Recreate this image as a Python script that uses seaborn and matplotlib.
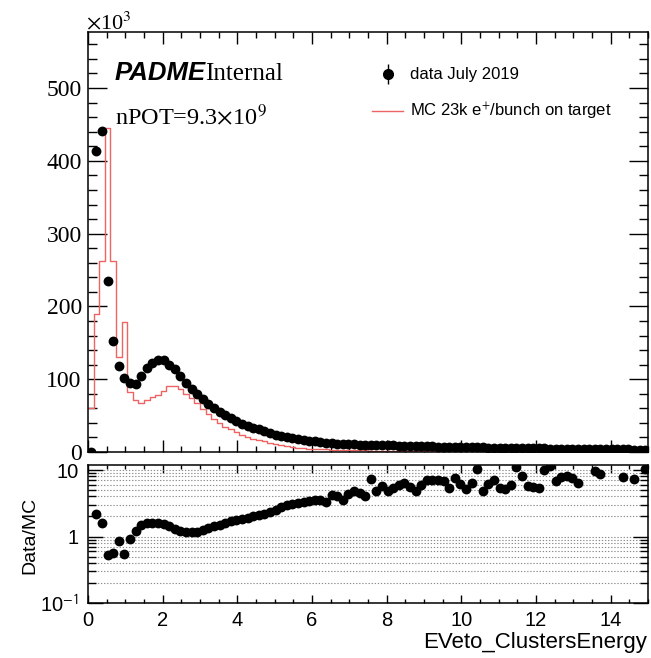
import numpy as np
import pandas as pd
import matplotlib
matplotlib.use("Agg")
import matplotlib.pyplot as plt
from matplotlib.lines import Line2D
from matplotlib.legend_handler import HandlerTuple
from matplotlib.ticker import MultipleLocator, LogLocator, NullFormatter, FixedLocator
import seaborn as sns

# ---------------- data (counts in units of 10^3) ----------------
x_min, x_max, n_bins = 0.0, 15.0, 100

data_counts = [0, 413, 441, 235, 152, 118, 101, 95, 94, 104,
               116, 122, 126, 126, 120, 114, 105, 95, 86, 79,
               73, 66, 60, 55, 51, 47, 43, 39, 36, 33.5,
               31, 28.5, 26, 24, 22, 20.5, 19, 17.8, 16.6, 15.5,
               14.6, 13.7, 12.9, 12.1, 11.4, 11.1, 10.8, 10.6, 10.3, 10.1,
               9.9, 9.7, 9.5, 9.3, 9.1, 8.9, 8.7, 8.5, 8.3, 8.1,
               7.9, 7.7, 7.5, 7.3, 7.1, 7.0, 6.8, 6.7, 6.5, 6.4,
               6.2, 6.1, 6.0, 5.8, 5.7, 5.6, 5.5, 5.3, 5.2, 5.1,
               5.0, 4.9, 4.8, 4.7, 4.6, 4.5, 4.4, 4.3, 4.2, 4.1,
               4.0, 3.9, 3.8, 3.8, 3.7, 3.6, 3.5, 3.4, 3.4, 3.3]

mc_counts = [61, 190, 262, 445, 262, 130, 178, 82, 72, 68,
             72, 75, 78, 84, 90, 91, 86, 80, 74, 67,
             59, 52, 45, 40, 35, 31, 27, 24, 21, 18.5,
             16.5, 14.5, 12.5, 10.5, 9.0, 7.8, 6.8, 6.0, 5.3, 4.7,
             4.2, 3.9, 3.7, 3.0, 2.9, 3.1, 2.45, 2.2, 2.3, 2.45,
             1.35, 2.0, 1.65, 1.95, 1.7, 1.5, 1.35, 1.5, 1.7, 1.35,
             1.15, 1.1, 1.05, 1.05, 1.3, 0.95, 1.1, 1.3, 1.0, 0.6,
             1.3, 1.0, 0.85, 1.05, 1.1, 0.95, 0.5, 0.65, 0.9, 0.95,
             0.95, 0.5, 0.4, 0.7, 0.6, 0.55, 0.6, 0.65, 0.3, 0.3,
             0.4, 0.45, 0.3, 0.3, 0.3, 0.45, 0.25, 0.45, 0.25, 0.3]

nan = float("nan")
ratio_values = [nan, 2.15, 1.62, 0.52, 0.56, 0.86, 0.54, 0.91, 1.22, 1.47,
                1.62, 1.6, 1.62, 1.55, 1.42, 1.3, 1.2, 1.15, 1.15, 1.17,
                1.25, 1.32, 1.42, 1.5, 1.58, 1.7, 1.78, 1.85, 1.92, 2.0,
                2.1, 2.2, 2.3, 2.5, 2.75, 2.95, 3.1, 3.2, 3.3, 3.45,
                3.6, 3.55, 3.3, 4.25, 4.0, 3.6, 4.4, 4.8, 4.5, 4.1,
                7.4, 4.8, 5.7, 4.8, 5.4, 5.9, 6.4, 5.6, 4.8, 5.9,
                7.0, 7.0, 7.1, 6.9, 5.4, 7.5, 6.2, 5.2, 6.4, 10.4,
                4.8, 6.2, 7.0, 5.4, 5.2, 5.9, 11.0, 8.2, 5.7, 5.5,
                5.4, 10.1, 11.6, 6.8, 7.9, 8.0, 7.6, 6.4, nan, nan,
                9.6, 8.6, nan, nan, nan, 7.9, nan, 7.4, nan, 10.4]

x_ticks = [0, 2, 4, 6, 8, 10, 12, 14]
y_main_ticks = [0, 100, 200, 300, 400, 500]
ratio_ticks = [0.1, 1, 10]
ratio_tick_labels = ["10$^{-1}$", "1", "10"]

legend_labels = ["data July 2019", "MC 23k e$^{+}$/bunch on target"]
x_label = "EVeto_ClustersEnergy"
ratio_label = "Data/MC"

edges = np.linspace(x_min, x_max, n_bins + 1)
centers = 0.5 * (edges[:-1] + edges[1:])
df = pd.DataFrame({"E": centers, "data": data_counts, "mc": mc_counts,
                   "ratio": ratio_values})

# ---------------- figure ----------------
SANS = "Liberation Sans"
SERIF = "Liberation Serif"
plt.rcParams["font.family"] = [SANS, "DejaVu Sans"]
plt.rcParams["axes.linewidth"] = 1.1

W, H = 651, 658
fig = plt.figure(figsize=(W / 100, H / 100), dpi=100)
fig.patch.set_facecolor("white")

def fx(px):
    return px / W

def fy(py):
    return 1 - py / H

ax = fig.add_axes([fx(88), fy(452), fx(648) - fx(88), fy(32) - fy(452)])
rax = fig.add_axes([fx(88), fy(603), fx(648) - fx(88), fy(465) - fy(603)])

red = "#ee6464"
sns.histplot(data=df, x="E", weights="mc", bins=n_bins,
             binrange=(x_min, x_max), element="step",
             fill=False, color=red, linewidth=1.0, ax=ax)
sns.scatterplot(data=df, x="E", y="data", color="black", s=50,
                edgecolor="black", linewidth=0, ax=ax, zorder=4)

ax.set_xlim(x_min, x_max)
ax.set_ylim(0, 577)
ax.set_xlabel("")
ax.set_ylabel("")
ax.xaxis.set_major_locator(FixedLocator(x_ticks))
ax.xaxis.set_minor_locator(MultipleLocator(0.5))
ax.yaxis.set_major_locator(FixedLocator(y_main_ticks))
ax.yaxis.set_minor_locator(MultipleLocator(20))
ax.tick_params(axis="both", which="both", direction="in", top=True,
               right=True, labelbottom=False, width=1.0, colors="black")
ax.tick_params(axis="y", which="major", length=13.5, pad=4.5, labelsize=17)
ax.tick_params(axis="y", which="minor", length=6.8)
ax.tick_params(axis="x", which="major", length=8.5)
ax.tick_params(axis="x", which="minor", length=4.2)
ax.set_yticklabels([str(v) for v in y_main_ticks])
for lbl in ax.get_yticklabels():
    lbl.set_fontfamily(SERIF)

# ratio panel
sns.scatterplot(data=df.dropna(), x="E", y="ratio", color="black", s=50,
                edgecolor="black", linewidth=0, ax=rax, zorder=4)
rax.set_yscale("log")
rax.set_xlim(x_min, x_max)
rax.set_ylim(0.1, 11.9)
rax.set_xlabel("")
rax.set_ylabel("")
rax.xaxis.set_major_locator(FixedLocator(x_ticks))
rax.xaxis.set_minor_locator(MultipleLocator(0.5))
rax.set_xticklabels([str(v) for v in x_ticks])
rax.yaxis.set_major_locator(FixedLocator(ratio_ticks))
rax.yaxis.set_minor_locator(LogLocator(base=10, subs=np.arange(2, 10), numticks=10))
rax.yaxis.set_minor_formatter(NullFormatter())
rax.set_yticklabels(ratio_tick_labels)
rax.tick_params(axis="both", which="both", direction="in", top=True,
                right=True, width=1.0, labelsize=14.5)
rax.tick_params(axis="y", which="major", length=10.8, pad=7)
rax.tick_params(axis="y", which="minor", length=5.8)
rax.tick_params(axis="x", which="major", length=5.8, pad=5.5)
rax.tick_params(axis="x", which="minor", length=2.9)
for lbl in rax.get_yticklabels():
    lbl.set_math_fontfamily("stixsans")
rax.set_axisbelow(True)
rax.yaxis.grid(True, which="both", linestyle=(0, (1.2, 1.6)),
               color="#8c8c8c", linewidth=0.8)

# texts
fig.text(fx(86), fy(29.5), r"$\times$10$^{3}$", fontfamily=SERIF,
         math_fontfamily="stix", fontsize=16, ha="left", va="baseline")
fig.text(fx(115), fy(80), "PADME", fontfamily=SANS, fontweight="bold",
         fontstyle="italic", fontsize=18.5, ha="left", va="baseline")
fig.text(fx(205), fy(80), "Internal", fontfamily=SERIF, fontsize=18,
         ha="left", va="baseline")
fig.text(fx(115), fy(125), r"nPOT=9.3$\times$10$^{9}$", fontfamily=SERIF,
         math_fontfamily="stix", fontsize=17.5, ha="left", va="baseline")

# legend
h_data = (Line2D([0], [0], marker="|", ms=14.5, mew=1.0, color="black", ls="none"),
          Line2D([0], [0], marker="o", ms=7, color="black", ls="none"))
h_mc = Line2D([0], [0], color=red, lw=1.0)
leg = ax.legend([h_data, h_mc], legend_labels,
                handler_map={tuple: HandlerTuple(ndivide=1)},
                loc="upper left", bbox_to_anchor=(fx(372), fy(67.5)),
                bbox_transform=fig.transFigure, frameon=False,
                fontsize=12, handlelength=1.86, handletextpad=0.42,
                labelspacing=1.1, borderpad=0, borderaxespad=0)
for t in leg.get_texts():
    t.set_math_fontfamily("stixsans")

fig.text(fx(647), fy(648), x_label, fontfamily=SANS, fontsize=16,
         ha="right", va="baseline")
fig.text(fx(30), fy(535), ratio_label, fontfamily=SANS, fontsize=14,
         rotation=90, ha="center", va="center")

fig.savefig("out.png", dpi=100, facecolor="white")
